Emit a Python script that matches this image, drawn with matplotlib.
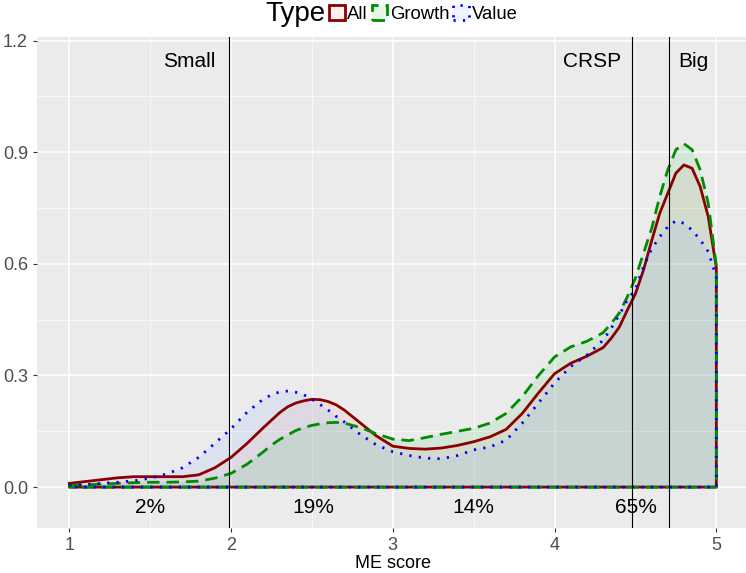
import matplotlib as mpl
mpl.use('Agg')
import matplotlib.pyplot as plt
from matplotlib.patches import Patch
import numpy as np

plt.rcParams['font.family'] = ['Liberation Sans', 'DejaVu Sans']

# ME score grid and density estimates
me_score = [1.0, 1.1, 1.2, 1.3, 1.4, 1.5, 1.6, 1.7, 1.8, 1.9,
            2.0, 2.1, 2.2, 2.25, 2.3, 2.35, 2.4, 2.45, 2.5, 2.55, 2.6, 2.65, 2.7, 2.8, 2.9,
            3.0, 3.1, 3.2, 3.3, 3.4, 3.5, 3.6, 3.7, 3.8, 3.9,
            4.0, 4.1, 4.2, 4.3, 4.35, 4.4, 4.45, 4.5, 4.55, 4.6, 4.65, 4.7,
            4.75, 4.8, 4.85, 4.9, 4.95, 5.0]
dens_all = [0.010, 0.015, 0.020, 0.025, 0.028, 0.028, 0.028, 0.028, 0.033, 0.052,
            0.080, 0.118, 0.160, 0.180, 0.200, 0.216, 0.226, 0.232, 0.236, 0.235, 0.230, 0.221, 0.207, 0.172, 0.137,
            0.110, 0.104, 0.102, 0.105, 0.112, 0.122, 0.135, 0.155, 0.198, 0.253,
            0.305, 0.333, 0.352, 0.375, 0.400, 0.430, 0.476, 0.520, 0.584, 0.662, 0.736, 0.790,
            0.844, 0.866, 0.857, 0.808, 0.727, 0.590]
dens_growth = [0.005, 0.006, 0.008, 0.010, 0.012, 0.013, 0.013, 0.014, 0.016, 0.024,
               0.037, 0.062, 0.095, 0.113, 0.128, 0.140, 0.152, 0.160, 0.166, 0.170, 0.173, 0.174, 0.172, 0.160, 0.143,
               0.129, 0.125, 0.133, 0.142, 0.150, 0.158, 0.172, 0.198, 0.243, 0.300,
               0.350, 0.377, 0.392, 0.415, 0.440, 0.468, 0.512, 0.562, 0.629, 0.695, 0.781, 0.853,
               0.907, 0.923, 0.907, 0.853, 0.763, 0.595]
dens_value = [0.005, 0.007, 0.010, 0.013, 0.017, 0.024, 0.035, 0.052, 0.080, 0.118,
              0.157, 0.202, 0.237, 0.248, 0.256, 0.258, 0.255, 0.248, 0.236, 0.222, 0.207, 0.190, 0.175, 0.141, 0.113,
              0.095, 0.085, 0.078, 0.076, 0.085, 0.100, 0.108, 0.126, 0.172, 0.226,
              0.280, 0.324, 0.355, 0.395, 0.427, 0.463, 0.503, 0.532, 0.593, 0.640, 0.673, 0.700,
              0.716, 0.709, 0.691, 0.665, 0.633, 0.565]

types = ['All', 'Growth', 'Value']
line_colors = ['#8B0000', '#008B00', '#0000FF']
fill_colors = ['#F8766D', '#00BA38', '#619CFF']
styles = ['-', (0, (4.5, 2.5)), (0, (0.8, 2.6))]

# cut-offs and labels
cut_x = [1.985, 4.48, 4.71]
cut_names = ['Small', 'CRSP', 'Big']
cut_label_x = [1.74, 4.23, 4.86]
share_x = [1.5, 2.51, 3.5, 4.5]
share_labels = ['2%', '19%', '14%', '65%']

fig = plt.figure(figsize=(7.46, 5.73), dpi=100)
ax = fig.add_axes([0.0496, 0.0785, 0.954, 0.857])
ax.set_facecolor('#EBEBEB')

x = np.array(me_score)
for dens, lc, fc, ls in zip([dens_all, dens_growth, dens_value], line_colors, fill_colors, styles):
    px = np.concatenate([x, [x[-1], x[0]]])
    py = np.concatenate([dens, [0, 0]])
    ax.fill(px, py, facecolor=mpl.colors.to_rgba(fc, 0.1), edgecolor='none', zorder=2)
    ax.plot(np.append(px, px[0]), np.append(py, py[0]), color=lc, linestyle=ls, lw=2.0,
            solid_joinstyle='round', dash_joinstyle='round', zorder=3)

for cx in cut_x:
    ax.axvline(cx, color='black', lw=0.8, zorder=4)
for lx, name in zip(cut_label_x, cut_names):
    ax.text(lx, 1.15, name, ha='center', va='center_baseline', fontsize=15, zorder=5)
for sx, lab in zip(share_x, share_labels):
    ax.text(sx, -0.05, lab, ha='center', va='center_baseline', fontsize=15, zorder=5)

ax.set_xlim(0.8, 5.2)
ax.set_ylim(-0.11, 1.21)
ax.set_xticks([1, 2, 3, 4, 5])
ax.set_yticks([0.0, 0.3, 0.6, 0.9, 1.2])
ax.set_yticklabels(['0.0', '0.3', '0.6', '0.9', '1.2'])
ax.set_xticks([1.5, 2.5, 3.5, 4.5], minor=True)
ax.set_yticks([0.15, 0.45, 0.75, 1.05], minor=True)
ax.grid(which='major', color='white', lw=1.1, zorder=0)
ax.grid(which='minor', color='white', lw=0.5, zorder=0)
ax.set_axisbelow(True)
for s in ax.spines.values():
    s.set_visible(False)
ax.tick_params(which='major', colors='#333333', labelcolor='#4D4D4D', labelsize=13, length=3)
ax.tick_params(which='minor', length=0)
ax.set_xlabel('ME score', fontsize=13, labelpad=1)

# legend on top
fig.text(0.4357, 0.9756, 'Type', ha='right', va='center', fontsize=20)
handles = [Patch(facecolor=mpl.colors.to_rgba(fc, 0.1), edgecolor=lc, linestyle=ls, lw=2)
           for lc, fc, ls in zip(line_colors, fill_colors, styles)]
fig.legend(handles, types, loc='center left', bbox_to_anchor=(0.441, 0.9756), ncol=3,
           frameon=False, fontsize=13.3, handlelength=0.85, handleheight=0.85,
           handletextpad=0.15, columnspacing=0.2, borderaxespad=0, borderpad=0)

fig.savefig('out.png', dpi=100)
